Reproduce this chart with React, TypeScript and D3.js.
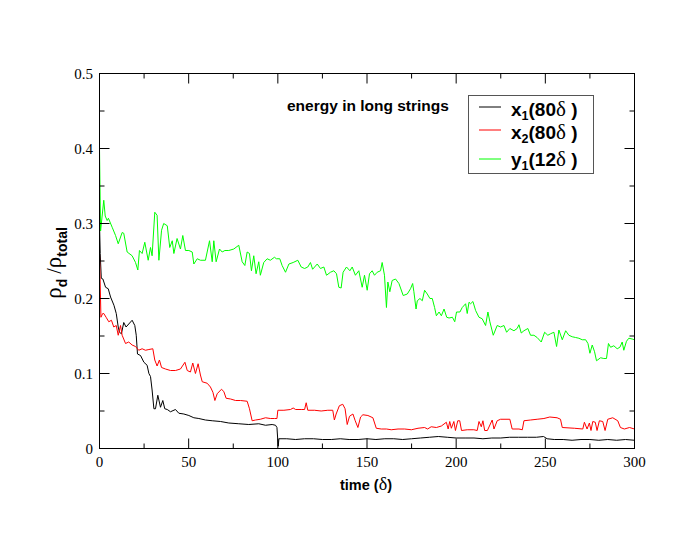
import React from "react";
import * as d3 from "d3";

// x1 (80δ) — black
const tX1 = [0, 0.4, 1, 1.9, 3.4, 4.9, 6.2, 8.1, 9.4, 10.5, 11.2, 12.3, 13.6, 14.9, 16.4, 18.3, 19.8, 20.6, 21.3, 23, 24.9, 26.7, 27.7, 28.6, 29.5, 30.5, 31.4, 32.7, 34.2, 35.5, 36.6, 38, 39.8, 42.6, 44.5, 47.3, 50.1, 52.9, 55.7, 59.4, 63.2, 67.9, 72.5, 78.1, 83.7, 89.3, 93.1, 96.8, 98.7, 99.5, 100.2, 100.6, 105, 110, 115, 120, 125, 130, 135, 140, 145, 150, 155, 160, 165, 170, 175, 180, 185, 190, 195, 200, 205, 210, 215, 220, 225, 230, 235, 240, 245, 249, 251, 255, 260, 265, 270, 275, 280, 285, 290, 295, 300];
const vX1 = [0.30, 0.26, 0.227, 0.226, 0.215, 0.213, 0.202, 0.191, 0.18, 0.162, 0.155, 0.153, 0.168, 0.162, 0.166, 0.171, 0.164, 0.151, 0.126, 0.124, 0.115, 0.111, 0.1, 0.096, 0.078, 0.053, 0.053, 0.071, 0.055, 0.064, 0.053, 0.052, 0.049, 0.052, 0.047, 0.046, 0.044, 0.041, 0.04, 0.038, 0.037, 0.036, 0.034, 0.033, 0.032, 0.033, 0.031, 0.032, 0.031, 0.028, 0.003, 0.013, 0.013, 0.012, 0.013, 0.013, 0.012, 0.012, 0.013, 0.012, 0.012, 0.013, 0.012, 0.013, 0.013, 0.012, 0.013, 0.014, 0.015, 0.016, 0.015, 0.014, 0.014, 0.014, 0.013, 0.014, 0.014, 0.015, 0.015, 0.015, 0.015, 0.016, 0.013, 0.012, 0.012, 0.011, 0.012, 0.012, 0.011, 0.012, 0.011, 0.012, 0.011];

// x2 (80δ) — red
const tX2 = [0, 0.3, 0.8, 1.8, 2.4, 3.7, 5.2, 6.7, 8, 9.4, 10.5, 11.8, 12.7, 14.6, 16.4, 18.3, 20.2, 22, 23.9, 25.8, 27.7, 29.9, 31, 32.3, 33.6, 34.8, 37, 39.8, 42.6, 45.4, 47.9, 49.2, 51, 52.3, 53.8, 55.3, 56.6, 57.6, 60.4, 62.2, 63.6, 64.7, 66, 68.4, 69.7, 71, 73.5, 76.3, 79.1, 82.8, 84.1, 85.6, 87.5, 90.2, 93.1, 95.8, 98.1, 99.5, 100, 103.4, 107.1, 108.6, 110, 113.1, 115, 115.9, 116.8, 120.6, 124.3, 128, 130.8, 131.7, 132.7, 134.5, 136.4, 137.7, 138.9, 140.2, 142.1, 143.4, 144.9, 146.4, 147.7, 150.5, 153.3, 155.2, 158, 160.9, 163.6, 167.4, 171.1, 174.9, 178.6, 182.3, 184, 186, 188.9, 191.7, 194.5, 195.5, 196.4, 197.3, 198.7, 199.6, 200.9, 202, 203, 206.2, 209.9, 211.8, 212.8, 214.1, 215, 216, 217.5, 220.2, 221.2, 223, 224.9, 230.1, 231.4, 235.2, 237.1, 238, 241.7, 245.4, 249.2, 252.5, 256.6, 258.5, 259.5, 266.3, 271, 271.9, 273.4, 274.7, 275.6, 276.6, 278, 279, 280.3, 282.2, 283.5, 285, 287.8, 290.6, 292.1, 294.3, 297.2, 300];
const vX2 = [0.26, 0.23, 0.175, 0.18, 0.18, 0.175, 0.169, 0.171, 0.162, 0.164, 0.151, 0.164, 0.151, 0.14, 0.142, 0.138, 0.136, 0.131, 0.133, 0.131, 0.132, 0.133, 0.118, 0.11, 0.118, 0.108, 0.106, 0.104, 0.104, 0.106, 0.115, 0.104, 0.102, 0.114, 0.1, 0.113, 0.098, 0.089, 0.087, 0.082, 0.075, 0.064, 0.073, 0.079, 0.076, 0.067, 0.066, 0.064, 0.064, 0.063, 0.053, 0.037, 0.038, 0.039, 0.041, 0.04, 0.04, 0.04, 0.051, 0.051, 0.052, 0.054, 0.052, 0.052, 0.052, 0.061, 0.051, 0.051, 0.05, 0.051, 0.051, 0.038, 0.046, 0.057, 0.059, 0.053, 0.032, 0.043, 0.046, 0.037, 0.028, 0.042, 0.045, 0.044, 0.041, 0.027, 0.026, 0.026, 0.025, 0.026, 0.026, 0.025, 0.027, 0.028, 0.026, 0.029, 0.028, 0.03, 0.035, 0.026, 0.036, 0.027, 0.036, 0.024, 0.037, 0.037, 0.024, 0.025, 0.025, 0.024, 0.036, 0.029, 0.037, 0.024, 0.024, 0.038, 0.026, 0.037, 0.039, 0.039, 0.026, 0.026, 0.025, 0.037, 0.038, 0.039, 0.04, 0.042, 0.041, 0.039, 0.028, 0.027, 0.026, 0.035, 0.026, 0.034, 0.024, 0.036, 0.035, 0.024, 0.037, 0.036, 0.024, 0.039, 0.041, 0.037, 0.028, 0.026, 0.028, 0.026];

// y1 (12δ) — green
const tY1 = [0, 0.6, 2.4, 3.2, 4.3, 5, 7.1, 9, 10.5, 12.7, 13.6, 15.5, 18.3, 20.2, 21.5, 22.4, 23.9, 25.4, 27.3, 28.6, 29.5, 31, 32.3, 33.3, 34.8, 36, 38, 39.4, 40.8, 41.7, 43.5, 45.4, 46.7, 48.2, 50.1, 52, 52.9, 54.8, 56.6, 59.4, 61.7, 63.2, 64.1, 65.4, 67.3, 68.8, 70.3, 72.5, 75.3, 78.1, 80, 81.5, 82.8, 84.1, 85.2, 86.5, 87.8, 89.3, 90.2, 92.1, 94, 95.8, 98.1, 99.2, 101.1, 102.4, 104.3, 106.2, 108.6, 111.2, 113.1, 115, 116.8, 118.3, 119.5, 122.1, 123.9, 125.8, 127.3, 129.5, 131.4, 132.9, 134.2, 135.5, 136.6, 138.5, 140.4, 141.7, 143.5, 145.4, 147.3, 148.6, 150.1, 151.4, 152.9, 154.2, 155.7, 157.6, 158.5, 159.8, 160.9, 161.7, 162.8, 164.1, 166, 167.9, 170.3, 172.6, 174.4, 175.6, 176.3, 177.5, 178.2, 179.7, 181, 182.3, 183.8, 185.3, 186.6, 187.9, 188.9, 190.4, 191.7, 193.2, 194.7, 196, 197.9, 199.2, 200.2, 202.1, 203.4, 205.3, 206.2, 207.2, 208.1, 209.4, 210.9, 212.8, 214.6, 216.5, 217.8, 218.9, 220.8, 223, 224.9, 226.8, 228.3, 230.1, 232.4, 234.2, 235.2, 236.5, 238, 240.2, 241.7, 243.6, 245.4, 247.7, 249.6, 251.4, 252.9, 254.8, 256.3, 257.6, 259.5, 261.4, 263.2, 265.1, 267, 268.8, 270.7, 272.6, 273.9, 275, 276.3, 277.6, 278.7, 281, 282.8, 284.3, 285.4, 286.6, 288.4, 290.3, 291.8, 293.1, 294, 295.5, 296.8, 298.7, 300];
const vY1 = [0.4, 0.29, 0.331, 0.31, 0.304, 0.307, 0.295, 0.284, 0.273, 0.288, 0.287, 0.262, 0.257, 0.248, 0.238, 0.264, 0.26, 0.275, 0.251, 0.268, 0.257, 0.315, 0.311, 0.251, 0.291, 0.3, 0.297, 0.268, 0.277, 0.26, 0.28, 0.266, 0.284, 0.264, 0.264, 0.262, 0.246, 0.253, 0.251, 0.251, 0.277, 0.249, 0.277, 0.249, 0.266, 0.262, 0.264, 0.264, 0.266, 0.271, 0.249, 0.244, 0.262, 0.26, 0.237, 0.257, 0.233, 0.249, 0.231, 0.248, 0.253, 0.251, 0.255, 0.253, 0.253, 0.244, 0.235, 0.246, 0.248, 0.251, 0.242, 0.24, 0.242, 0.248, 0.239, 0.246, 0.24, 0.242, 0.231, 0.235, 0.237, 0.233, 0.215, 0.214, 0.235, 0.242, 0.237, 0.242, 0.231, 0.237, 0.215, 0.231, 0.211, 0.233, 0.237, 0.231, 0.235, 0.237, 0.248, 0.231, 0.188, 0.222, 0.209, 0.224, 0.226, 0.22, 0.204, 0.206, 0.213, 0.22, 0.209, 0.186, 0.197, 0.2, 0.197, 0.211, 0.206, 0.2, 0.2, 0.188, 0.177, 0.182, 0.177, 0.186, 0.175, 0.174, 0.175, 0.169, 0.182, 0.182, 0.188, 0.193, 0.18, 0.195, 0.193, 0.196, 0.184, 0.175, 0.173, 0.164, 0.182, 0.169, 0.151, 0.164, 0.162, 0.164, 0.155, 0.16, 0.157, 0.16, 0.165, 0.154, 0.157, 0.16, 0.151, 0.151, 0.148, 0.142, 0.155, 0.151, 0.153, 0.155, 0.136, 0.158, 0.145, 0.157, 0.151, 0.149, 0.148, 0.147, 0.145, 0.145, 0.14, 0.127, 0.138, 0.129, 0.117, 0.121, 0.12, 0.12, 0.14, 0.135, 0.137, 0.133, 0.135, 0.142, 0.131, 0.143, 0.147, 0.146, 0.145];

const xMajor = [0, 50, 100, 150, 200, 250, 300];
const xMinor = [25, 75, 125, 175, 225, 275];
const yMajor = [0, 0.1, 0.2, 0.3, 0.4, 0.5];
const yMinor = [0.05, 0.15, 0.25, 0.35, 0.45];

const seriesList = [
  { t: tX1, v: vX1, color: "#000000", sub: "1", base: "x", dur: "80" },
  { t: tX2, v: vX2, color: "#ff0000", sub: "2", base: "x", dur: "80" },
  { t: tY1, v: vY1, color: "#00ff00", sub: "1", base: "y", dur: "12" },
];

export default function App() {
  const L = 99.5, R = 634.5, T = 73.5, B = 448.5;
  const x = d3.scaleLinear().domain([0, 300]).range([L, R]);
  const y = d3.scaleLinear().domain([0, 0.5]).range([B, T]);
  const line = d3
    .line<[number, number]>()
    .x((d) => x(d[0]))
    .y((d) => y(d[1]));
  const serif = "Liberation Serif, DejaVu Serif, serif";
  const sans = "Liberation Sans, Arial, Helvetica, sans-serif";
  const major = 10, minor = 5;
  const legendRows = [107, 130, 159];
  const legendBase = [116, 139, 166];

  return (
    <svg width={692} height={536} style={{ position: "absolute", left: 0, top: 0, background: "#fff" }}>
      <rect x={0} y={0} width={692} height={536} fill="#fff" />
      {seriesList.map((s, i) => (
        <path
          key={i}
          d={line(s.t.map((t, j) => [t, s.v[j]] as [number, number])) || ""}
          fill="none"
          stroke={s.color}
          strokeWidth={1}
        />
      ))}
      <rect x={L} y={T} width={R - L} height={B - T} fill="none" stroke="#000" strokeWidth={1} />
      {xMajor.map((t) => (
        <g key={"xm" + t}>
          <line x1={x(t)} x2={x(t)} y1={B} y2={B - major} stroke="#000" />
          <line x1={x(t)} x2={x(t)} y1={T} y2={T + major} stroke="#000" />
          <text x={x(t)} y={467} textAnchor="middle" fontFamily={serif} fontSize={15}>
            {t}
          </text>
        </g>
      ))}
      {xMinor.map((t) => (
        <g key={"xn" + t}>
          <line x1={x(t)} x2={x(t)} y1={B} y2={B - minor} stroke="#000" />
          <line x1={x(t)} x2={x(t)} y1={T} y2={T + minor} stroke="#000" />
        </g>
      ))}
      {yMajor.map((v) => (
        <g key={"ym" + v}>
          <line x1={L} x2={L + major} y1={y(v)} y2={y(v)} stroke="#000" />
          <line x1={R} x2={R - major} y1={y(v)} y2={y(v)} stroke="#000" />
          <text x={93} y={y(v) + 5} textAnchor="end" fontFamily={serif} fontSize={15}>
            {v === 0 ? "0" : v.toFixed(1)}
          </text>
        </g>
      ))}
      {yMinor.map((v) => (
        <g key={"yn" + v}>
          <line x1={L} x2={L + minor} y1={y(v)} y2={y(v)} stroke="#000" />
          <line x1={R} x2={R - minor} y1={y(v)} y2={y(v)} stroke="#000" />
        </g>
      ))}
      <text x={366} y={490} textAnchor="middle" fontFamily={sans} fontSize={14.5} fontWeight="bold">
        time (<tspan fontWeight="normal" fontSize={18} fontFamily={serif}>δ</tspan>)
      </text>
      <text transform="translate(61,263) rotate(-90)" textAnchor="middle" fontFamily={sans} fontSize={14} fontWeight="bold">
        <tspan fontFamily={serif} fontWeight="normal" fontSize={23}>ρ</tspan>
        <tspan dy={6}>d</tspan>
        <tspan dy={-6} fontFamily={serif} fontWeight="normal" fontSize={20}> /</tspan>
        <tspan fontFamily={serif} fontWeight="normal" fontSize={23}>ρ</tspan>
        <tspan dy={6}>total</tspan>
      </text>
      <text x={287} y={111} fontFamily={sans} fontSize={15.5} fontWeight="bold">
        energy in long strings
      </text>
      <rect x={468.5} y={95.5} width={125} height={78} fill="#fff" stroke="#555" strokeWidth={1} />
      {seriesList.map((s, i) => (
        <g key={"lg" + i}>
          <line x1={479} x2={501} y1={legendRows[i]} y2={legendRows[i]} stroke={s.color} strokeWidth={1} />
          <text x={511} y={legendBase[i]} fontFamily={sans} fontSize={19} fontWeight="bold">
            {s.base}
            <tspan fontSize={12.5} dy={4}>{s.sub}</tspan>
            <tspan dy={-4}>({s.dur}</tspan>
            <tspan fontFamily={serif} fontWeight="normal" fontSize={21}>δ</tspan>
            <tspan> )</tspan>
          </text>
        </g>
      ))}
    </svg>
  );
}
